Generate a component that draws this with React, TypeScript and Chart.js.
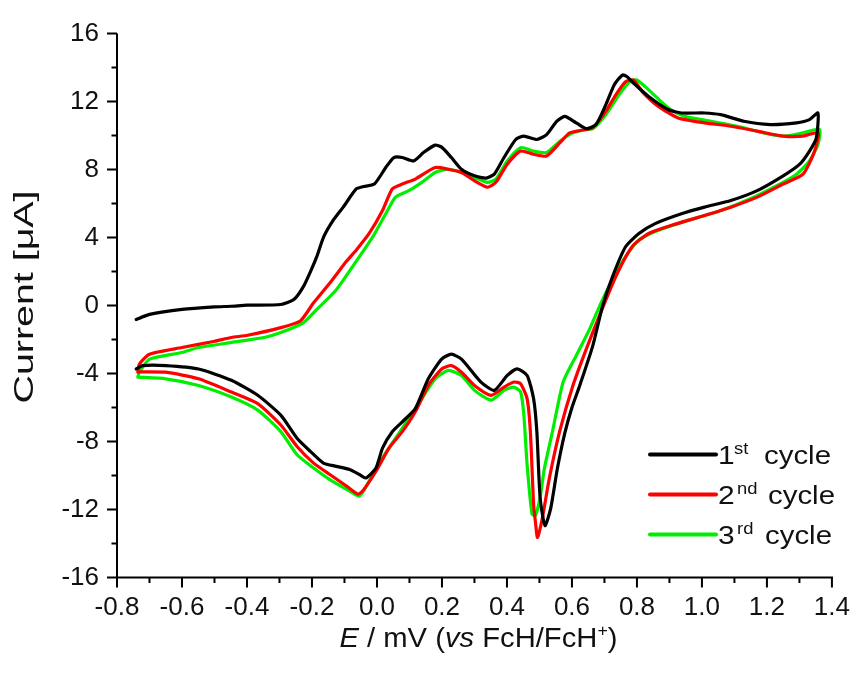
import React, { useEffect, useRef } from "react";
import { Chart, registerables } from "chart.js";

Chart.register(...registerables);

// ---- axis ranges & tick labels ----
const X_MIN = -0.8;
const X_MAX = 1.4;
const Y_MIN = -16;
const Y_MAX = 16;
const xTickValues = [-0.8, -0.6, -0.4, -0.2, 0.0, 0.2, 0.4, 0.6, 0.8, 1.0, 1.2, 1.4];
const yTickValues = [-16, -12, -8, -4, 0, 4, 8, 12, 16];

// ---- series (E in V vs FcH/FcH+, current in µA) ----
const cycle1E = [
  -0.741, -0.70, -0.60, -0.50, -0.448, -0.40, -0.296, -0.256, -0.226, -0.2, -0.185, -0.164, -0.135, -0.104, -0.064, -0.044,
  -0.008, 0.027, 0.052, 0.078, 0.113, 0.143, 0.179, 0.199, 0.229, 0.26, 0.30, 0.336, 0.361, 0.391, 0.427, 0.452,
  0.492, 0.522, 0.553, 0.578, 0.613, 0.644, 0.674, 0.704, 0.73, 0.755, 0.77, 0.785, 0.836, 0.897, 0.937, 1.008,
  1.058, 1.129, 1.21, 1.291, 1.331, 1.357,
  1.352, 1.331, 1.301, 1.25, 1.17, 1.089, 1.008, 0.937, 0.856, 0.806, 0.765, 0.725, 0.694, 0.664, 0.624, 0.6,
  0.578, 0.555, 0.535, 0.517, 0.502, 0.492, 0.482, 0.462, 0.431, 0.401, 0.361, 0.32, 0.26, 0.229, 0.199, 0.158,
  0.118, 0.078, 0.047, 0.017, -0.003, -0.034, -0.054, -0.084, -0.125, -0.165, -0.205, -0.246, -0.296, -0.367,
  -0.448, -0.549, -0.65, -0.721, -0.741,
];
const cycle1I = [
  -0.82, -0.52, -0.23, -0.08, -0.04, 0.02, 0.06, 0.35, 1.13, 2.2, 2.89, 4.04, 5.01, 5.79, 6.86, 6.99,
  7.15, 8.12, 8.71, 8.71, 8.51, 9.0, 9.44, 9.32, 8.71, 8.02, 7.63, 7.5, 7.73, 8.71, 9.77, 9.97,
  9.77, 10.06, 10.84, 11.13, 10.75, 10.41, 10.65, 11.81, 12.98, 13.56, 13.46, 13.17, 12.3, 11.52, 11.33, 11.33,
  11.23, 10.84, 10.65, 10.75, 10.94, 11.33,
  9.87, 9.09, 8.32, 7.63, 6.76, 6.18, 5.79, 5.4, 4.82, 4.24, 3.46, 1.71, -0.04, -2.37, -4.7, -6.0,
  -7.5, -9.6, -11.9, -12.95, -11.3, -7.42, -5.48, -4.11, -3.73, -4.11, -4.99, -4.5, -3.15, -2.86, -3.15, -4.31,
  -6.06, -6.84, -7.42, -8.39, -9.56, -10.14, -9.94, -9.65, -9.46, -9.27, -8.58, -7.81, -6.45, -5.28,
  -4.4, -3.73, -3.53, -3.53, -3.73,
];

const cycle2E = [
  -0.736, -0.731, -0.70, -0.60, -0.499, -0.448, -0.398, -0.296, -0.236, -0.195, -0.145, -0.094, -0.064, -0.024, 0.017,
  0.047, 0.078, 0.118, 0.179, 0.219, 0.26, 0.30, 0.34, 0.366, 0.401, 0.442, 0.482, 0.522, 0.563, 0.593, 0.644,
  0.664, 0.704, 0.735, 0.765, 0.79, 0.816, 0.866, 0.927, 1.008, 1.089, 1.17, 1.25, 1.311, 1.358,
  1.345, 1.311, 1.25, 1.17, 1.089, 1.008, 0.907, 0.836, 0.785, 0.735, 0.684, 0.644, 0.603, 0.562,
  0.53, 0.51, 0.494, 0.488, 0.482, 0.472, 0.462, 0.442, 0.421, 0.391, 0.351, 0.30, 0.26, 0.229, 0.199, 0.158,
  0.118, 0.078, 0.037, -0.003, -0.044, -0.059, -0.094, -0.145, -0.195, -0.246, -0.296, -0.367, -0.448, -0.549,
  -0.65, -0.731, -0.736,
];
const cycle2I = [
  -3.92, -3.44, -2.86, -2.47, -2.1, -1.88, -1.75, -1.3, -0.91, 0.16, 1.32, 2.6, 3.26, 4.24, 5.59,
  6.86, 7.15, 7.44, 8.12, 8.02, 7.83, 7.34, 6.96, 7.25, 8.32, 9.09, 8.9, 8.8, 9.58, 10.16, 10.36,
  10.45, 11.42, 12.4, 13.17, 13.27, 12.59, 11.71, 11.04, 10.75, 10.55, 10.26, 9.97, 9.97, 10.16,
  9.0, 7.73, 7.15, 6.38, 5.79, 5.3, 4.72, 4.24, 3.46, 1.71, -0.62, -2.56, -4.7, -7.42,
  -10.2, -12.4, -13.64, -12.8, -11.69, -7.42, -5.48, -4.6, -4.5, -4.8, -5.28, -4.7, -3.92, -3.53, -3.73, -4.7,
  -6.25, -7.42, -8.39, -9.75, -10.91, -11.1, -10.62, -9.94, -9.27, -8.29, -7.03, -5.77, -5.09, -4.31,
  -3.92, -3.9, -3.92,
];

const cycle3E = [
  -0.736, -0.731, -0.70, -0.60, -0.549, -0.448, -0.347, -0.296, -0.226, -0.185, -0.125, -0.054, -0.013,
  0.027, 0.057, 0.098, 0.138, 0.179, 0.219, 0.26, 0.30, 0.34, 0.366, 0.401, 0.442, 0.482, 0.522, 0.563, 0.603,
  0.644, 0.664, 0.704, 0.745, 0.78, 0.80, 0.836, 0.897, 0.947, 1.028, 1.109, 1.19, 1.25, 1.311, 1.362,
  1.357, 1.331, 1.291, 1.23, 1.149, 1.058, 0.957, 0.866, 0.806, 0.765, 0.735, 0.694, 0.654, 0.613, 0.573, 0.54,
  0.515, 0.502, 0.487, 0.477, 0.462, 0.452, 0.442, 0.421, 0.391, 0.351, 0.30, 0.26, 0.219, 0.179, 0.138, 0.098,
  0.057, 0.017, -0.024, -0.054, -0.084, -0.145, -0.195, -0.246, -0.296, -0.367, -0.448, -0.549, -0.65, -0.736,
];
const cycle3I = [
  -4.21, -3.92, -3.15, -2.76, -2.47, -2.17, -1.88, -1.59, -1.0, -0.23, 0.93, 2.88, 4.04,
  5.4, 6.38, 6.76, 7.25, 7.83, 8.02, 7.83, 7.54, 7.25, 7.44, 8.51, 9.29, 9.09, 9.0, 9.67, 10.16,
  10.36, 10.4, 11.23, 12.4, 13.21, 13.27, 12.69, 11.62, 11.13, 10.84, 10.55, 10.16, 9.97, 10.16, 10.36,
  9.48, 8.51, 7.73, 7.05, 6.28, 5.59, 5.01, 4.43, 3.85, 2.88, 1.9, 0.35, -1.4, -2.95, -4.5, -7.42,
  -9.6, -11.3, -12.37, -12.27, -9.36, -6.45, -5.09, -4.8, -4.99, -5.57, -4.99, -4.11, -3.82, -4.31, -5.48, -6.64,
  -7.81, -8.97, -10.33, -11.21, -10.91, -10.24, -9.56, -8.78, -7.42, -6.15, -5.38, -4.7, -4.31, -4.21,
];

const seriesNumbers = ["1", "2", "3"];
const seriesSuffixes = ["st", "nd", "rd"];
const seriesColors = ["#000000", "#ff0000", "#00ee00"];
const seriesE = [cycle1E, cycle2E, cycle3E];
const seriesI = [cycle1I, cycle2I, cycle3I];

const FONT = '"Liberation Sans", Arial, Helvetica, sans-serif';
const TEXT_COLOR = "#111111";

function stretchText(ctx: CanvasRenderingContext2D, text: string, x: number, y: number, sx: number) {
  ctx.save();
  ctx.translate(x, y);
  ctx.scale(sx, 1);
  ctx.fillText(text, 0, 0);
  ctx.restore();
}

const decorPlugin = {
  id: "decor",
  afterDraw(chart: any) {
    const { ctx, chartArea: a, scales } = chart;
    const xs = scales.x;
    const ys = scales.y;
    ctx.save();
    ctx.strokeStyle = "#000";
    ctx.lineWidth = 2;
    ctx.lineCap = "butt";
    // axis lines
    ctx.beginPath();
    ctx.moveTo(a.left, a.top);
    ctx.lineTo(a.left, a.bottom + 1);
    ctx.moveTo(a.left - 1, a.bottom);
    ctx.lineTo(a.right + 1, a.bottom);
    ctx.stroke();
    // x ticks (major + minor)
    const MAJ = 10;
    const MIN = 5.5;
    ctx.beginPath();
    xTickValues.forEach((v, i) => {
      const px = xs.getPixelForValue(v);
      ctx.moveTo(px, a.bottom);
      ctx.lineTo(px, a.bottom + MAJ);
      if (i < xTickValues.length - 1) {
        const m = xs.getPixelForValue((v + xTickValues[i + 1]) / 2);
        ctx.moveTo(m, a.bottom);
        ctx.lineTo(m, a.bottom + MIN);
      }
    });
    yTickValues.forEach((v, i) => {
      const py = ys.getPixelForValue(v);
      ctx.moveTo(a.left, py);
      ctx.lineTo(a.left - MAJ, py);
      if (i < yTickValues.length - 1) {
        const m = ys.getPixelForValue((v + yTickValues[i + 1]) / 2);
        ctx.moveTo(a.left, m);
        ctx.lineTo(a.left - MIN, m);
      }
    });
    ctx.stroke();

    ctx.fillStyle = TEXT_COLOR;
    ctx.textBaseline = "alphabetic";
    ctx.textAlign = "left";

    // x axis title: E / mV (vs FcH/FcH+)
    const normal = `28px ${FONT}`;
    const italic = `italic 28px ${FONT}`;
    const sup = `17px ${FONT}`;
    const segs = [
      { t: "E", f: italic, dy: 0 },
      { t: " / mV (", f: normal, dy: 0 },
      { t: "vs", f: italic, dy: 0 },
      { t: " FcH/FcH", f: normal, dy: 0 },
      { t: "+", f: sup, dy: -11 },
      { t: ")", f: normal, dy: 0 },
    ];
    let total = 0;
    const widths = segs.map((s) => {
      ctx.font = s.f;
      const w = ctx.measureText(s.t).width;
      total += w;
      return w;
    });
    const targetW = 278;
    const sxX = targetW / total;
    const cx = (a.left + a.right) / 2 + 4;
    let x = cx - targetW / 2;
    const baseX = 646.5;
    segs.forEach((s, i) => {
      ctx.font = s.f;
      stretchText(ctx, s.t, x, baseX + s.dy, sxX);
      x += widths[i] * sxX;
    });

    // y axis title
    ctx.font = `28px ${FONT}`;
    const yt = "Current [\u03BCA]";
    const yw = ctx.measureText(yt).width;
    ctx.save();
    ctx.translate(33.3, 297);
    ctx.rotate(-Math.PI / 2);
    ctx.scale(213 / yw, 1);
    ctx.textAlign = "center";
    ctx.fillText(yt, 0, 0);
    ctx.restore();

    // legend
    const baselines = [463.5, 503.5, 543.5];
    const supX = [734, 737, 737];
    const cycleX = [764, 768, 765];
    const legFont = `26px ${FONT}`;
    const supFont = `16px ${FONT}`;
    seriesNumbers.forEach((num, i) => {
      const b = baselines[i];
      ctx.strokeStyle = seriesColors[i];
      ctx.lineWidth = 4;
      ctx.lineCap = "round";
      ctx.beginPath();
      ctx.moveTo(650, b - 9);
      ctx.lineTo(716, b - 9);
      ctx.stroke();
      ctx.fillStyle = TEXT_COLOR;
      ctx.textAlign = "left";
      ctx.font = legFont;
      stretchText(ctx, num, 718, b, 1.15);
      ctx.font = supFont;
      stretchText(ctx, seriesSuffixes[i], supX[i], b - 10, 1.15);
      ctx.font = legFont;
      const cw = ctx.measureText("cycle").width;
      stretchText(ctx, "cycle", cycleX[i], b, 67 / cw);
    });
    ctx.restore();
  },
};

export default function App() {
  const ref = useRef<HTMLCanvasElement | null>(null);
  useEffect(() => {
    if (!ref.current) return;
    const datasets = seriesNumbers.map((n, i) => ({
      label: `${n}${seriesSuffixes[i]} cycle`,
      data: seriesE[i].map((e, k) => ({ x: e, y: seriesI[i][k] })),
      showLine: true,
      borderColor: seriesColors[i],
      backgroundColor: seriesColors[i],
      borderWidth: 3.2,
      pointRadius: 0,
      tension: 0.2,
      borderJoinStyle: "round" as const,
      borderCapStyle: "round" as const,
      fill: false,
    }));
    const tickFont = { family: FONT, size: 26 };
    const chart = new Chart(ref.current, {
      type: "scatter",
      data: { datasets },
      options: {
        responsive: false,
        animation: false,
        layout: { padding: { top: 28, right: 22, left: 0, bottom: 0 } },
        plugins: { legend: { display: false }, tooltip: { enabled: false } },
        scales: {
          x: {
            type: "linear",
            min: X_MIN,
            max: X_MAX,
            afterBuildTicks: (s: any) => {
              s.ticks = xTickValues.map((v) => ({ value: v }));
            },
            afterFit: (s: any) => {
              s.height = 97.5;
            },
            grid: { display: false, drawTicks: false },
            border: { display: false },
            ticks: {
              padding: 15,
              font: tickFont,
              color: TEXT_COLOR,
              maxRotation: 0,
              autoSkip: false,
              callback: (v: any) => (Math.abs(Number(v)) < 1e-9 ? 0 : Number(v)).toFixed(1),
            },
          },
          y: {
            type: "linear",
            min: Y_MIN,
            max: Y_MAX,
            afterBuildTicks: (s: any) => {
              s.ticks = yTickValues.map((v) => ({ value: v }));
            },
            afterFit: (s: any) => {
              s.width = 117;
            },
            grid: { display: false, drawTicks: false },
            border: { display: false },
            ticks: {
              padding: 18,
              font: tickFont,
              color: TEXT_COLOR,
              autoSkip: false,
              callback: (v: any) => String(Number(v)),
            },
          },
        },
      },
      plugins: [decorPlugin],
    });
    return () => chart.destroy();
  }, []);
  return (
    <div style={{ position: "absolute", left: 0, top: 0, width: 865, height: 675, background: "#fff" }}>
      <canvas ref={ref} width={865} height={675} style={{ display: "block", width: 865, height: 675 }} />
    </div>
  );
}
